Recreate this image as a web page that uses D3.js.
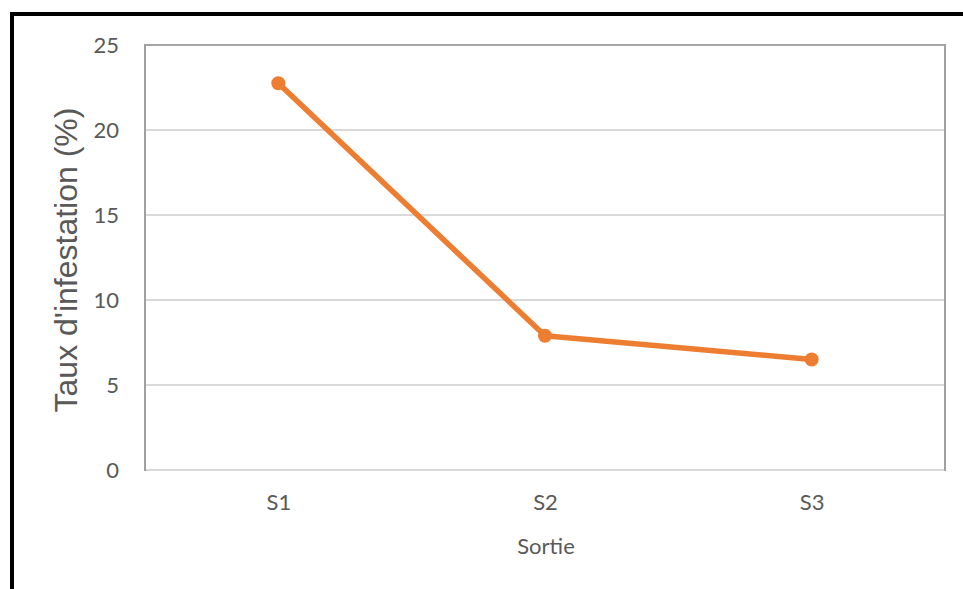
<!DOCTYPE html>
<html>
<head>
<meta charset="utf-8">
<script src="https://cdn.jsdelivr.net/npm/d3@7"></script>
<style>
  html, body { margin: 0; padding: 0; background: #fff; }
  svg { display: block; }
</style>
</head>
<body>
<svg id="chart" width="963" height="589"></svg>
<script>
// Infestation rate per sortie
const sorties = ["S1", "S2", "S3"];
const taux = [22.75, 7.9, 6.5];
const yTicks = [0, 5, 10, 15, 20, 25];

const svg = d3.select("#chart");
const W = 963, H = 589;
const plot = { left: 145, right: 945, top: 45, bottom: 470 };

// page frame (top and left black edges)
svg.append("rect").attr("x", 0).attr("y", 0).attr("width", W).attr("height", H).attr("fill", "#fff");
svg.append("rect").attr("x", 10).attr("y", 12).attr("width", W - 10).attr("height", 4).attr("fill", "#000");
svg.append("rect").attr("x", 10).attr("y", 12).attr("width", 4).attr("height", H - 12).attr("fill", "#000");

const x = d3.scalePoint().domain(sorties).range([plot.left, plot.right]).padding(0.5);
const y = d3.scaleLinear().domain([0, 25]).range([plot.bottom, plot.top]);

// horizontal gridlines
svg.append("g")
  .selectAll("line")
  .data(yTicks)
  .join("line")
  .attr("x1", plot.left).attr("x2", plot.right)
  .attr("y1", d => y(d)).attr("y2", d => y(d))
  .attr("stroke", d => d === 25 ? "#a6a6a6" : "#d9d9d9")
  .attr("stroke-width", 2);

// side borders of the plot area
svg.append("line").attr("x1", plot.left).attr("x2", plot.left)
  .attr("y1", plot.top - 1).attr("y2", plot.bottom + 1)
  .attr("stroke", "#a0a0a0").attr("stroke-width", 2);
svg.append("line").attr("x1", plot.right).attr("x2", plot.right)
  .attr("y1", plot.top - 1).attr("y2", plot.bottom + 1)
  .attr("stroke", "#a0a0a0").attr("stroke-width", 2);

// y axis tick labels
const yAxis = d3.axisLeft(y).tickValues(yTicks).tickSize(0).tickPadding(26);
const gy = svg.append("g").attr("transform", `translate(${plot.left},0)`).call(yAxis);
gy.select(".domain").remove();
gy.selectAll("text")
  .attr("font-family", "Lato, 'Open Sans', sans-serif")
  .attr("font-size", 22)
  .attr("fill", "#595959");

// x axis tick labels
const xAxis = d3.axisBottom(x).tickSize(0).tickPadding(24);
const gx = svg.append("g").attr("transform", `translate(0,${plot.bottom})`).call(xAxis);
gx.select(".domain").remove();
gx.selectAll("text")
  .attr("font-family", "Lato, 'Open Sans', sans-serif")
  .attr("font-size", 22)
  .attr("fill", "#595959");

// axis titles
svg.append("text")
  .attr("x", (plot.left + plot.right) / 2 + 1)
  .attr("y", 554)
  .attr("text-anchor", "middle")
  .attr("font-family", "Lato, 'Open Sans', sans-serif")
  .attr("font-size", 22)
  .attr("fill", "#595959")
  .text("Sortie");

svg.append("text")
  .attr("transform", `translate(77,260) rotate(-90)`)
  .attr("text-anchor", "middle")
  .attr("font-family", "'Liberation Sans', Arial, sans-serif")
  .attr("font-size", 32)
  .attr("fill", "#595959")
  .text("Taux d'infestation (%)");

// series line and markers
const pts = sorties.map((s, i) => ({ s, v: taux[i] }));
const line = d3.line().x(d => x(d.s)).y(d => y(d.v));
svg.append("path")
  .datum(pts)
  .attr("d", line)
  .attr("fill", "none")
  .attr("stroke", "#ed7d31")
  .attr("stroke-width", 5.5)
  .attr("stroke-linejoin", "round")
  .attr("stroke-linecap", "round");

svg.append("g")
  .selectAll("circle")
  .data(pts)
  .join("circle")
  .attr("cx", d => x(d.s))
  .attr("cy", d => y(d.v))
  .attr("r", 7)
  .attr("fill", "#ed7d31");
</script>
</body>
</html>
